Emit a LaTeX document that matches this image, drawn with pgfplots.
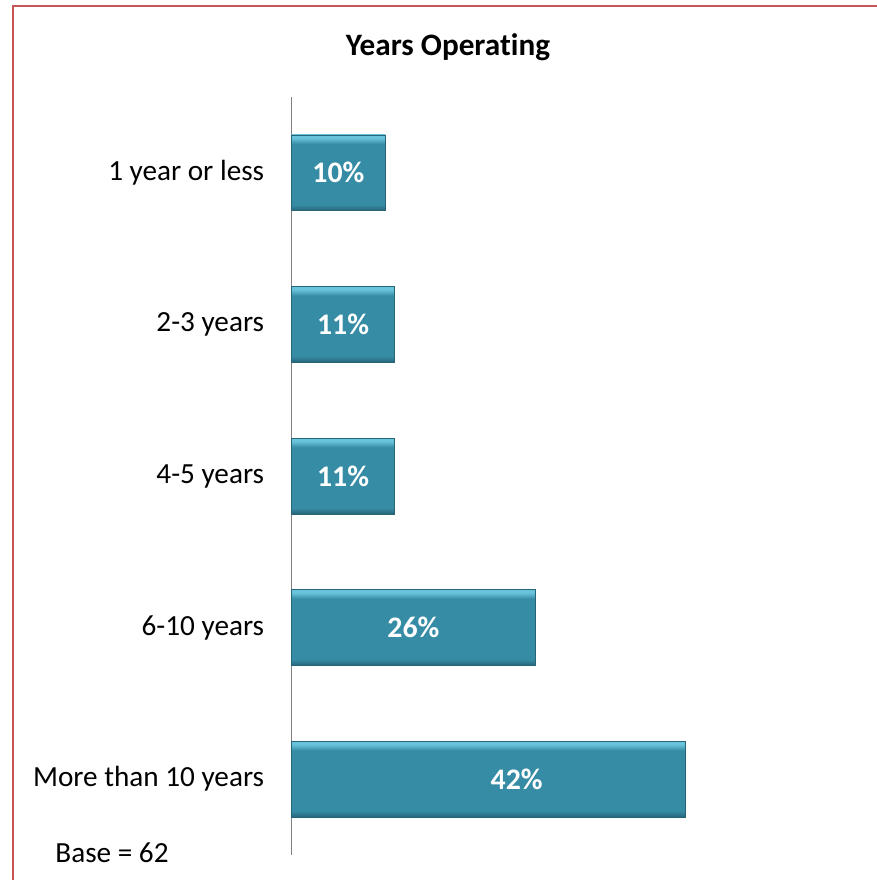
\documentclass[border=0pt]{standalone}
\usepackage{pgfplots}
\pgfplotsset{compat=1.18}
\usepackage{fontspec}
\setmainfont{Carlito}[Ligatures=NoCommon]
\definecolor{barteal}{RGB}{55,140,165}
\definecolor{bdark}{RGB}{38,100,120}
\definecolor{blight}{RGB}{105,195,220}
\definecolor{frame}{RGB}{200,85,85}
\definecolor{axgray}{RGB}{128,128,128}
\pgfdeclareverticalshading{bevel}{100bp}{color(0bp)=(bdark); color(25bp)=(bdark); color(29bp)=(barteal); color(69bp)=(barteal); color(73bp)=(blight); color(75bp)=(blight); color(100bp)=(blight)}
\begin{document}
\begin{tikzpicture}[x=0.5pt,y=0.5pt]
\useasboundingbox (0,0) rectangle (877,880);
\draw[frame, line width=1.3pt] (13,0) -- (13,874) -- (877,874);
\node[font=\bfseries\fontsize{15.6}{18}\selectfont] at (448,833) {Years Operating};
\node[anchor=west, font=\fontsize{14.6}{17}\selectfont, inner sep=0pt] at (55,27) {Base = 62};
\begin{axis}[
  at={(145.75pt,12.5pt)}, anchor=south west,
  width=234.5pt, height=379pt, scale only axis,
  xmin=0, xmax=50, ymin=-0.5, ymax=4.5, y dir=reverse,
  axis x line=none, axis y line*=left,
  axis line style={draw=axgray, line width=0.6pt, -},
  ytick={0,1,2,3,4},
  yticklabels={1 year or less, 2-3 years, 4-5 years, 6-10 years, More than 10 years},
  major tick length=0pt,
  yticklabel style={font=\fontsize{14.6}{17}\selectfont, inner sep=0pt, xshift=-13.5pt},
  bar width=0.5,
  clip=false,
  every axis plot/.append style={},
]
\addplot[xbar, draw=bdark, line width=0.4pt, shade, shading=bevel] coordinates {(10,0)};
\addplot[xbar, draw=bdark, line width=0.4pt, shade, shading=bevel] coordinates {(11,1)};
\addplot[xbar, draw=bdark, line width=0.4pt, shade, shading=bevel] coordinates {(11,2)};
\addplot[xbar, draw=bdark, line width=0.4pt, shade, shading=bevel] coordinates {(26,3)};
\addplot[xbar, draw=bdark, line width=0.4pt, shade, shading=bevel] coordinates {(42,4)};
\addplot[sharp plot, draw=none, mark=none, nodes near coords, point meta=explicit symbolic,
  nodes near coords style={anchor=center, inner sep=0pt, text=white, font=\bfseries\fontsize{14.9}{17}\selectfont}]
  coordinates {(5,0)[10\%] (5.5,1)[11\%] (5.5,2)[11\%] (13,3)[26\%] (24,4)[42\%]};
\end{axis}
\end{tikzpicture}
\end{document}
